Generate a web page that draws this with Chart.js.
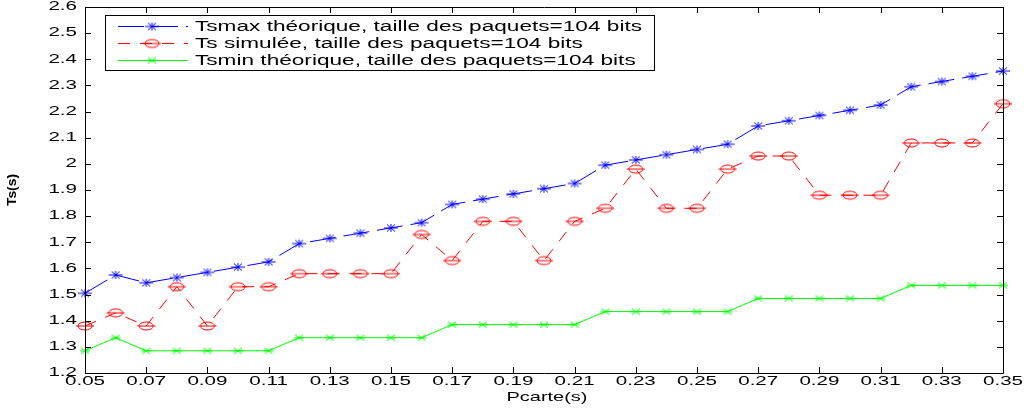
<!DOCTYPE html>
<html>
<head>
<meta charset="utf-8">
<script src="https://cdn.jsdelivr.net/npm/chart.js@4/dist/chart.umd.min.js"></script>
<style>
  html, body { margin: 0; padding: 0; background: #fff; }
  #wrap { width: 1032px; height: 411px; }
</style>
</head>
<body>
<div id="wrap"><canvas id="tsChart" width="1032" height="411"></canvas></div>
<script>
// Données
const pcarte = [0.05, 0.06, 0.07, 0.08, 0.09, 0.10, 0.11, 0.12, 0.13, 0.14, 0.15, 0.16, 0.17, 0.18, 0.19, 0.20,
  0.21, 0.22, 0.23, 0.24, 0.25, 0.26, 0.27, 0.28, 0.29, 0.30, 0.31, 0.32, 0.33, 0.34, 0.35]
const tsMax = [1.505, 1.575, 1.545, 1.565, 1.585, 1.605, 1.625, 1.695, 1.715, 1.735, 1.755, 1.775, 1.845, 1.865,
  1.885, 1.905, 1.925, 1.995, 2.015, 2.035, 2.055, 2.075, 2.145, 2.165, 2.185, 2.205, 2.225, 2.295, 2.315, 2.335, 2.355]
const tsSim = [1.38, 1.43, 1.38, 1.53, 1.38, 1.53, 1.53, 1.58, 1.58, 1.58, 1.58, 1.73, 1.63, 1.78, 1.78, 1.63,
  1.78, 1.83, 1.98, 1.83, 1.83, 1.98, 2.03, 2.03, 1.88, 1.88, 1.88, 2.08, 2.08, 2.08, 2.23]
const tsMin = [1.285, 1.335, 1.285, 1.285, 1.285, 1.285, 1.285, 1.335, 1.335, 1.335, 1.335, 1.335, 1.385, 1.385,
  1.385, 1.385, 1.385, 1.435, 1.435, 1.435, 1.435, 1.435, 1.485, 1.485, 1.485, 1.485, 1.485, 1.535, 1.535, 1.535, 1.535]
const xTicks = [0.05, 0.07, 0.09, 0.11, 0.13, 0.15, 0.17, 0.19, 0.21, 0.23, 0.25, 0.27, 0.29, 0.31, 0.33, 0.35]
const yTicks = [1.2, 1.3, 1.4, 1.5, 1.6, 1.7, 1.8, 1.9, 2.0, 2.1, 2.2, 2.3, 2.4, 2.5, 2.6]
const seriesNames = [
  "Tsmax théorique, taille des paquets=104 bits",
  "Ts simulée, taille des paquets=104 bits",
  "Tsmin théorique, taille des paquets=104 bits",
]

const FONT = '"Liberation Sans", Arial, sans-serif'

// Marqueurs façon MATLAB
function makeMarker(w, h, draw) {
  const c = document.createElement("canvas")
  c.width = w
  c.height = h
  const g = c.getContext("2d")
  g.lineWidth = 1
  draw(g, w / 2, h / 2)
  return c
}

const starMarker = makeMarker(18, 12, (g, cx, cy) => {
  g.strokeStyle = "#0000ff"
  g.beginPath()
  g.moveTo(cx - 7, cy); g.lineTo(cx + 7, cy)
  g.moveTo(cx, cy - 4); g.lineTo(cx, cy + 4)
  g.moveTo(cx - 4, cy - 3.5); g.lineTo(cx + 4, cy + 3.5)
  g.moveTo(cx - 4, cy + 3.5); g.lineTo(cx + 4, cy - 3.5)
  g.stroke()
})

const circleMarker = makeMarker(20, 12, (g, cx, cy) => {
  g.strokeStyle = "#ff0000"
  g.beginPath()
  g.ellipse(cx, cy, 7, 4, 0, 0, Math.PI * 2)
  g.moveTo(cx - 9, cy); g.lineTo(cx + 9, cy)
  g.stroke()
})

const xMarker = makeMarker(12, 10, (g, cx, cy) => {
  g.strokeStyle = "#00ff00"
  g.beginPath()
  g.moveTo(cx - 4, cy - 3); g.lineTo(cx + 4, cy + 3)
  g.moveTo(cx - 4, cy + 3); g.lineTo(cx + 4, cy - 3)
  g.moveTo(cx - 5, cy); g.lineTo(cx + 5, cy)
  g.stroke()
})

function toPoints(ys) {
  return pcarte.map((x, i) => ({ x: x, y: ys[i] }))
}

function stretchText(ctx, txt, x, y, align, sx) {
  ctx.save()
  ctx.translate(x, y)
  ctx.scale(sx, 1)
  ctx.textAlign = align
  ctx.fillText(txt, 0, 0)
  ctx.restore()
}

// Cadre, graduations, textes et légende dessinés à la main (style MATLAB)
const matlabFrame = {
  id: "matlabFrame",
  afterDraw(chart) {
    const ctx = chart.ctx
    const area = chart.chartArea
    const xs = chart.scales.x
    const ys = chart.scales.y
    const tick = 6

    ctx.save()
    ctx.strokeStyle = "#000"
    ctx.lineWidth = 1
    ctx.beginPath()
    ctx.rect(Math.round(area.left) + 0.5, Math.round(area.top) + 0.5,
      Math.round(area.right - area.left), Math.round(area.bottom - area.top))
    ctx.stroke()

    ctx.beginPath()
    xTicks.forEach((v) => {
      const px = Math.round(xs.getPixelForValue(v)) + 0.5
      ctx.moveTo(px, area.bottom); ctx.lineTo(px, area.bottom - tick)
      ctx.moveTo(px, area.top); ctx.lineTo(px, area.top + tick)
    })
    yTicks.forEach((v) => {
      const py = Math.round(ys.getPixelForValue(v)) + 0.5
      ctx.moveTo(area.left, py); ctx.lineTo(area.left + tick, py)
      ctx.moveTo(area.right, py); ctx.lineTo(area.right - tick, py)
    })
    ctx.stroke()

    // Libellés des graduations
    ctx.fillStyle = "#000"
    ctx.font = "12px " + FONT
    ctx.textBaseline = "middle"
    const tsx = 40 / ctx.measureText("0.05").width
    xTicks.forEach((v) => {
      stretchText(ctx, v.toFixed(2), xs.getPixelForValue(v), area.bottom + 9, "center", tsx)
    })
    yTicks.forEach((v) => {
      stretchText(ctx, String(Number(v.toFixed(1))), area.left - 8, ys.getPixelForValue(v), "right", tsx)
    })

    // Titres des axes
    ctx.font = "13px " + FONT
    const xsx = 81 / ctx.measureText("Pcarte(s)").width
    stretchText(ctx, "Pcarte(s)", (area.left + area.right) / 2 + 3, 397, "center", xsx)

    ctx.font = "bold 12px " + FONT
    const ysx = 32 / ctx.measureText("Ts(s)").width
    ctx.save()
    ctx.translate(13, 190)
    ctx.rotate(-Math.PI / 2)
    stretchText(ctx, "Ts(s)", 0, 0, "center", ysx)
    ctx.restore()

    // Légende encadrée
    const box = { left: 105, top: 15, right: 654, bottom: 70 }
    ctx.fillStyle = "#fff"
    ctx.fillRect(box.left, box.top, box.right - box.left, box.bottom - box.top)
    ctx.strokeStyle = "#000"
    ctx.strokeRect(box.left + 0.5, box.top + 0.5, box.right - box.left, box.bottom - box.top)

    const rowsY = [26, 43, 60]
    const markers = [starMarker, circleMarker, xMarker]
    ctx.font = "14px " + FONT
    const lsx = 447 / ctx.measureText(seriesNames[0]).width
    chart.data.datasets.forEach((ds, i) => {
      const y = rowsY[i] + 0.5
      ctx.strokeStyle = ds.borderColor
      ctx.setLineDash(ds.borderDash || [])
      ctx.beginPath()
      ctx.moveTo(118, y)
      ctx.lineTo(188, y)
      ctx.stroke()
      ctx.setLineDash([])
      const m = markers[i]
      ctx.drawImage(m, 152 - m.width / 2, rowsY[i] - m.height / 2 + 0.5)
      ctx.fillStyle = "#000"
      stretchText(ctx, seriesNames[i], 195, rowsY[i] + 1, "left", lsx)
    })
    ctx.restore()
  },
}

new Chart(document.getElementById("tsChart"), {
  type: "line",
  data: {
    datasets: [
      {
        label: seriesNames[0],
        data: toPoints(tsMax),
        borderColor: "#0000ff",
        borderWidth: 1,
        borderDash: [26, 8],
        pointStyle: starMarker,
        clip: false,
      },
      {
        label: seriesNames[1],
        data: toPoints(tsSim),
        borderColor: "#ff0000",
        borderWidth: 1,
        borderDash: [12, 10],
        pointStyle: circleMarker,
        clip: false,
      },
      {
        label: seriesNames[2],
        data: toPoints(tsMin),
        borderColor: "#00ff00",
        borderWidth: 1,
        pointStyle: xMarker,
        clip: false,
      },
    ],
  },
  options: {
    responsive: false,
    animation: false,
    tension: 0,
    layout: { padding: { top: 7, right: 29, left: 0, bottom: 0 } },
    plugins: {
      legend: { display: false },
      tooltip: { enabled: false },
    },
    scales: {
      x: {
        type: "linear",
        min: 0.05,
        max: 0.35,
        afterBuildTicks: (s) => { s.ticks = xTicks.map((v) => ({ value: v })) },
        afterFit: (s) => { s.height = 38 },
        ticks: { display: false },
        grid: { display: false },
        border: { display: false },
      },
      y: {
        min: 1.2,
        max: 2.6,
        afterBuildTicks: (s) => { s.ticks = yTicks.map((v) => ({ value: v })) },
        afterFit: (s) => { s.width = 85 },
        ticks: { display: false },
        grid: { display: false },
        border: { display: false },
      },
    },
  },
  plugins: [matlabFrame],
})
</script>
</body>
</html>
